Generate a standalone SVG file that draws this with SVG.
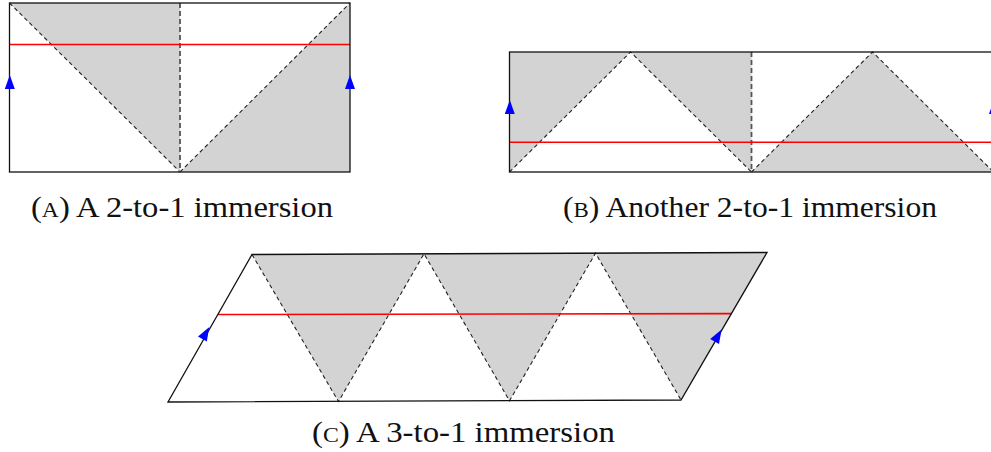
<svg xmlns="http://www.w3.org/2000/svg" width="991" height="452" viewBox="0 0 991 452">
<style>
.bg{fill:#ffffff}
.fill{fill:#d3d3d3;stroke:none}
.edge{fill:none;stroke:#111;stroke-width:1.3}
.dv{fill:none;stroke:#555;stroke-width:1.8;stroke-dasharray:5 3}
.dd{fill:none;stroke:#222;stroke-width:1.1;stroke-dasharray:4 3}
.red{fill:none;stroke:#ff0000;stroke-width:1.6}
.arr{fill:#0000ff;stroke:none}
.cap{font-family:"Liberation Serif","Times New Roman",serif;font-size:29px;fill:#111}
.sc{font-size:21px}
</style>
<rect class="bg" x="0" y="0" width="991" height="452"/>

<g id="panelA">
  <polygon class="fill" points="9.5,3 180,3 180,172"/>
  <polygon class="fill" points="180,172 350,3 350,172"/>
  <line class="dd" x1="9.5" y1="3" x2="180" y2="172"/>
  <line class="dd" x1="180" y1="172" x2="350" y2="3"/>
  <line class="dv" x1="180" y1="3" x2="180" y2="172"/>
  <line class="red" x1="9.5" y1="44.5" x2="350" y2="44.5"/>
  <rect class="edge" x="9.5" y="3" width="340.5" height="169"/>
  <polygon class="arr" points="9.8,75 4.8,89 14.8,89"/>
  <polygon class="arr" points="350,75 345,89 355,89"/>
  <text class="cap" x="31" y="217" textLength="302" lengthAdjust="spacingAndGlyphs">(<tspan class="sc">A</tspan>) A 2-to-1 immersion</text>
</g>

<g id="panelB">
  <polygon class="fill" points="509.5,52 630.5,52 509.5,172"/>
  <polygon class="fill" points="630.5,52 751.5,52 751.5,172"/>
  <polygon class="fill" points="751.5,172 872.5,52 993.5,172"/>
  <polyline class="dd" points="509.5,172 630.5,52 751.5,172"/>
  <polyline class="dd" points="751.5,172 872.5,52 993.5,172"/>
  <line class="dv" x1="751.5" y1="52" x2="751.5" y2="172"/>
  <line class="red" x1="509.5" y1="142.3" x2="993.5" y2="142.3"/>
  <rect class="edge" x="509.5" y="52" width="484" height="120"/>
  <polygon class="arr" points="509.8,100 504.8,114 514.8,114"/>
  <polygon class="arr" points="994,100 989,114 999,114"/>
  <text class="cap" x="563" y="217" textLength="374" lengthAdjust="spacingAndGlyphs">(<tspan class="sc">B</tspan>) Another 2-to-1 immersion</text>
</g>

<g id="panelC">
  <polygon class="fill" points="252,254.5 424,253.8 338.5,401.5"/>
  <polygon class="fill" points="424,253.8 595.5,253.2 509.5,400.8"/>
  <polygon class="fill" points="595.5,253.2 767,252.5 681,400"/>
  <polyline class="dd" points="252,254.5 338.5,401.5 424,253.8 509.5,400.8 595.5,253.2 681,400"/>
  <line class="red" x1="218" y1="314.5" x2="731.5" y2="313.6"/>
  <polygon class="edge" points="168,402 252,254.5 767,252.5 681,400"/>
  <polygon class="arr" points="209.3,327 206.8,341.5 198,336.5"/>
  <polygon class="arr" points="721.6,329.5 719,344 710.2,339"/>
  <text class="cap" x="312" y="442" textLength="303" lengthAdjust="spacingAndGlyphs">(<tspan class="sc">C</tspan>) A 3-to-1 immersion</text>
</g>
</svg>
